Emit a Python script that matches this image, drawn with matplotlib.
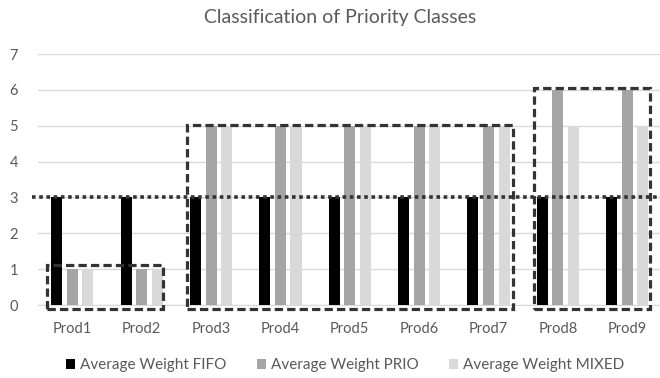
import numpy as np
import matplotlib
matplotlib.use('Agg')
import matplotlib.pyplot as plt
from matplotlib.patches import Rectangle

# data
products = ['Prod1', 'Prod2', 'Prod3', 'Prod4', 'Prod5', 'Prod6', 'Prod7', 'Prod8', 'Prod9']
fifo = [3, 3, 3, 3, 3, 3, 3, 3, 3]
prio = [1, 1, 5, 5, 5, 5, 5, 6, 6]
mixed = [1, 1, 5, 5, 5, 5, 5, 5, 5]
series_names = ['Average Weight FIFO', 'Average Weight PRIO', 'Average Weight MIXED']

plt.rcParams['font.family'] = ['Lato', 'DejaVu Sans']
txt = '#595959'

fig = plt.figure(figsize=(6.6, 3.78), dpi=100)
ax = fig.add_axes([0.057, 0.193, 0.946, 0.664])

x = np.arange(len(products))
w = 0.16
step = 0.225
ax.bar(x - step, fifo, w, color='#000000', label=series_names[0], zorder=3)
ax.bar(x, prio, w, color='#A5A5A5', label=series_names[1], zorder=3)
ax.bar(x + step, mixed, w, color='#D9D9D9', label=series_names[2], zorder=3)

ax.set_xlim(-0.5, 8.5)
ax.set_ylim(0, 7)
ax.set_yticks(range(8))
ax.set_xticks(x)
ax.set_xticklabels(products)
ax.yaxis.grid(True, color='#D9D9D9', linewidth=1, zorder=0)
ax.set_axisbelow(True)
for s in ['top', 'right', 'left']:
    ax.spines[s].set_visible(False)
ax.spines['bottom'].set_color('#D9D9D9')
ax.tick_params(length=0, colors=txt, labelsize=10.5)
ax.tick_params(axis='y', pad=14)
ax.tick_params(axis='x', pad=12)

# dashed boxes around groups
dash = (0, (2.6, 1.3))
boxes = [(-0.36, -0.1, 1.67, 1.21), (1.66, -0.12, 4.69, 5.13), (6.66, -0.1, 1.67, 6.14)]
for bx, by, bw, bh in boxes:
    ax.add_patch(Rectangle((bx, by), bw, bh, fill=False, edgecolor='#333333',
                           linewidth=2.3, linestyle=dash, zorder=5, clip_on=False))

# threshold line
ax.plot([-0.58, 8.7], [3, 3], color='#333333', linewidth=2.6,
        linestyle=(0, (1, 1)), dash_capstyle='butt', zorder=6, clip_on=False)

fig.text(0.515, 0.955, 'Classification of Priority Classes', ha='center', va='center',
         fontsize=14, color=txt)

ax.legend(loc='center', bbox_to_anchor=(0.523, 0.034), bbox_transform=fig.transFigure,
          ncol=3, frameon=False, fontsize=11, labelcolor=txt, handlelength=0.6,
          handleheight=0.6, handletextpad=0.3, columnspacing=2.0)

fig.savefig('out.png', dpi=100)
